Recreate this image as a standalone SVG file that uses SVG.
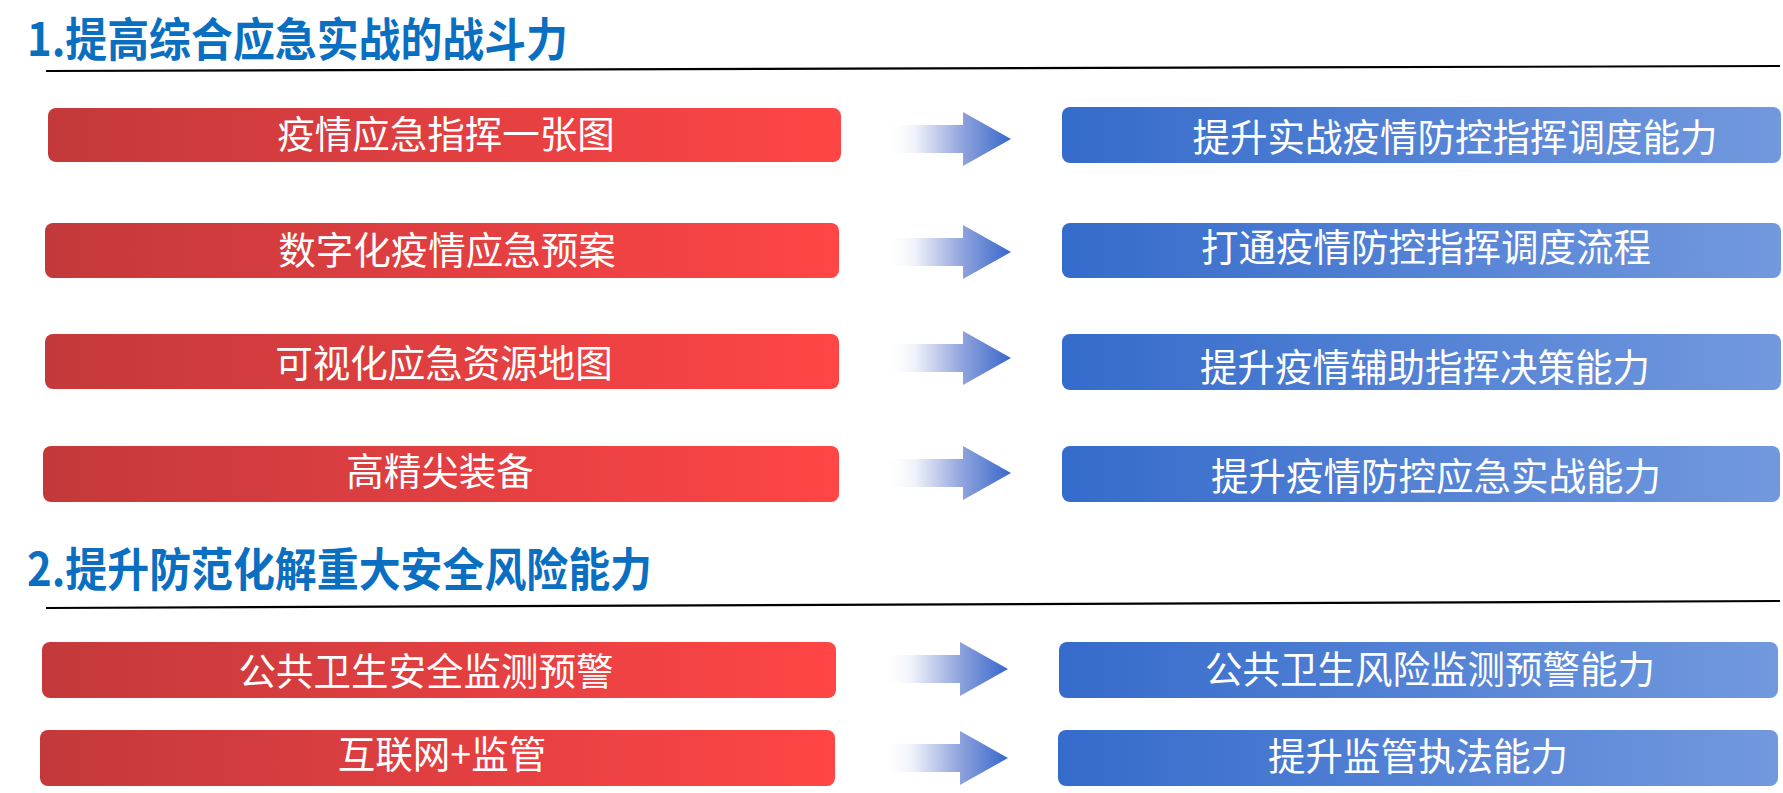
<svg xmlns="http://www.w3.org/2000/svg" xmlns:xlink="http://www.w3.org/1999/xlink" width="1783" height="793" viewBox="0 0 1783 793">
<defs>
<linearGradient id="gRed" x1="0" y1="0" x2="1" y2="0">
<stop offset="0" stop-color="#c3393b"/>
<stop offset="1" stop-color="#ff4546"/>
</linearGradient>
<linearGradient id="gBlue" x1="0" y1="0" x2="1" y2="0">
<stop offset="0" stop-color="#356bcb"/>
<stop offset="1" stop-color="#7299de"/>
</linearGradient>
<linearGradient id="gArrow" x1="0" y1="0" x2="1" y2="0">
<stop offset="0" stop-color="#ffffff" stop-opacity="0"/>
<stop offset="0.25" stop-color="#eef1fa"/>
<stop offset="0.62" stop-color="#8fa3dc"/>
<stop offset="1" stop-color="#3767cc"/>
</linearGradient>
<path id="arrow" d="M0,-14 H79 V-27 L127,0 L79,27 V14 H0 Z" fill="url(#gArrow)"/>
</defs>
<style>
.title{font-family:"Noto Sans CJK SC","Noto Sans",sans-serif;font-weight:bold;font-size:46px;fill:#0a6fc1}
.lbl{font-family:"Noto Sans CJK SC","Noto Sans",sans-serif;font-size:37.5px;fill:#ffffff;text-anchor:middle}
.red{fill:url(#gRed)}
.blue{fill:url(#gBlue)}
.rule{stroke:#000;stroke-width:2.2;fill:none}
</style>
<rect width="1783" height="793" fill="#ffffff"/>

<g id="title1"><text class="title" x="27" y="56" textLength="541" lengthAdjust="spacingAndGlyphs">1.提高综合应急实战的战斗力</text></g>
<g id="title2"><text class="title" x="27" y="586" textLength="625" lengthAdjust="spacingAndGlyphs">2.提升防范化解重大安全风险能力</text></g>
<g id="rules">
<line class="rule" x1="46" y1="71" x2="1780" y2="66"/>
<line class="rule" x1="46" y1="608" x2="1780" y2="601"/>
</g>

<g id="n-r1"><rect class="red" x="48" y="108" width="793" height="54" rx="8"/><text class="lbl" x="446" y="148">疫情应急指挥一张图</text></g>
<g id="n-r2"><rect class="red" x="45" y="223" width="794" height="55" rx="8"/><text class="lbl" x="447" y="264">数字化疫情应急预案</text></g>
<g id="n-r3"><rect class="red" x="45" y="334" width="794" height="55" rx="8"/><text class="lbl" x="444" y="377">可视化应急资源地图</text></g>
<g id="n-r4"><rect class="red" x="43" y="446" width="796" height="56" rx="8"/><text class="lbl" x="440" y="485">高精尖装备</text></g>
<g id="n-r5"><rect class="red" x="42" y="642" width="794" height="56" rx="8"/><text class="lbl" x="426" y="685">公共卫生安全监测预警</text></g>
<g id="n-r6"><rect class="red" x="40" y="730" width="795" height="56" rx="8"/><text class="lbl" x="442" y="768">互联网+监管</text></g>

<g id="n-b1"><rect class="blue" x="1062" y="107" width="719" height="56" rx="8"/><text class="lbl" x="1455" y="151">提升实战疫情防控指挥调度能力</text></g>
<g id="n-b2"><rect class="blue" x="1062" y="223" width="719" height="55" rx="8"/><text class="lbl" x="1426" y="261">打通疫情防控指挥调度流程</text></g>
<g id="n-b3"><rect class="blue" x="1062" y="334" width="719" height="56" rx="8"/><text class="lbl" x="1425" y="381">提升疫情辅助指挥决策能力</text></g>
<g id="n-b4"><rect class="blue" x="1062" y="446" width="718" height="56" rx="8"/><text class="lbl" x="1436" y="490">提升疫情防控应急实战能力</text></g>
<g id="n-b5"><rect class="blue" x="1059" y="642" width="719" height="56" rx="8"/><text class="lbl" x="1430" y="683">公共卫生风险监测预警能力</text></g>
<g id="n-b6"><rect class="blue" x="1058" y="730" width="720" height="56" rx="8"/><text class="lbl" x="1418" y="770">提升监管执法能力</text></g>

<g id="connectors">
<use xlink:href="#arrow" href="#arrow" transform="translate(884,139)"/>
<use xlink:href="#arrow" href="#arrow" transform="translate(884,252)"/>
<use xlink:href="#arrow" href="#arrow" transform="translate(884,358)"/>
<use xlink:href="#arrow" href="#arrow" transform="translate(884,473)"/>
<use xlink:href="#arrow" href="#arrow" transform="translate(881,669)"/>
<use xlink:href="#arrow" href="#arrow" transform="translate(881,758)"/>
</g>
</svg>
